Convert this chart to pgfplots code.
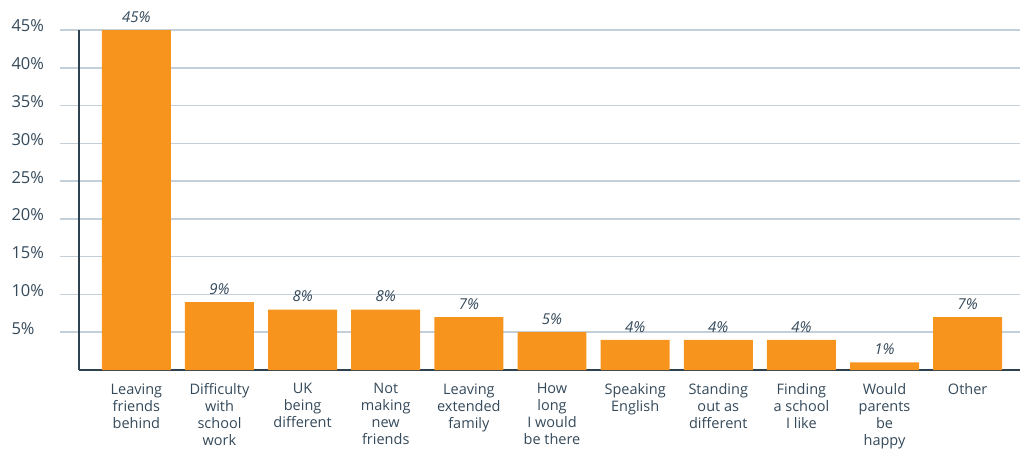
\documentclass[border=0pt]{standalone}
\usepackage{pgfplots}
\pgfplotsset{compat=1.18}
\usepackage{fontspec}
\setmainfont{Open Sans}
\definecolor{barorange}{HTML}{F7941D}
\definecolor{axisdark}{HTML}{2E4150}
\definecolor{gridblue}{HTML}{C3CFD9}
\definecolor{txt}{HTML}{34495A}
\begin{document}
\begin{tikzpicture}
\begin{axis}[
  name=ax,
  scale only axis,
  width=941pt, height=340pt,
  xmin=-0.69, xmax=10.63,
  ymin=0, ymax=45,
  ybar, bar width=0.83, bar shift=0pt,
  axis x line*=bottom, axis y line*=left,
  axis line style={axisdark, line width=2.5pt, -},
  xtick={0,1,2,3,4,5,6,7,8,9,10},
  xticklabels={{Leaving\\friends\\behind},{Difficulty\\with\\school\\work},{UK\\being\\different},{Not\\making\\new\\friends},{Leaving\\extended\\family},{How\\long\\I would\\be there},{Speaking\\English},{Standing\\out as\\different},{Finding\\a school\\I like},{Would\\parents\\be\\happy},{Other}},
  xticklabel style={align=center, font=\fontsize{14.5}{17}\selectfont, text=txt, anchor=north, yshift=9pt},
  x tick style={draw=none},
  ytick={5,10,...,45},
  yticklabel={\pgfmathprintnumber{\tick}\%},
  /pgf/number format/assume math mode=true,
  yticklabel style={font=\fontsize{16.5}{18}\selectfont, text=txt, anchor=west, xshift=-52pt, yshift=4pt},
  tick align=outside,
  major tick length=19pt,
  y tick style={gridblue, line width=1.5pt},
  ymajorgrids,
  major grid style={gridblue, line width=1.5pt},
  nodes near coords={\pgfmathprintnumber{\pgfplotspointmeta}\%},
  nodes near coords style={font=\fontsize{15}{17}\selectfont\itshape, text=txt, anchor=south, yshift=4pt},
  clip=false,
]
\addplot[fill=barorange, draw=none] coordinates {
(0,45) (1,9) (2,8) (3,8) (4,7) (5,5) (6,4) (7,4) (8,4) (9,1) (10,7)};
\end{axis}
\path[use as bounding box] ([shift={(-79pt,-81pt)}]ax.south west) rectangle ([shift={(7pt,30pt)}]ax.north east);
\end{tikzpicture}
\end{document}
